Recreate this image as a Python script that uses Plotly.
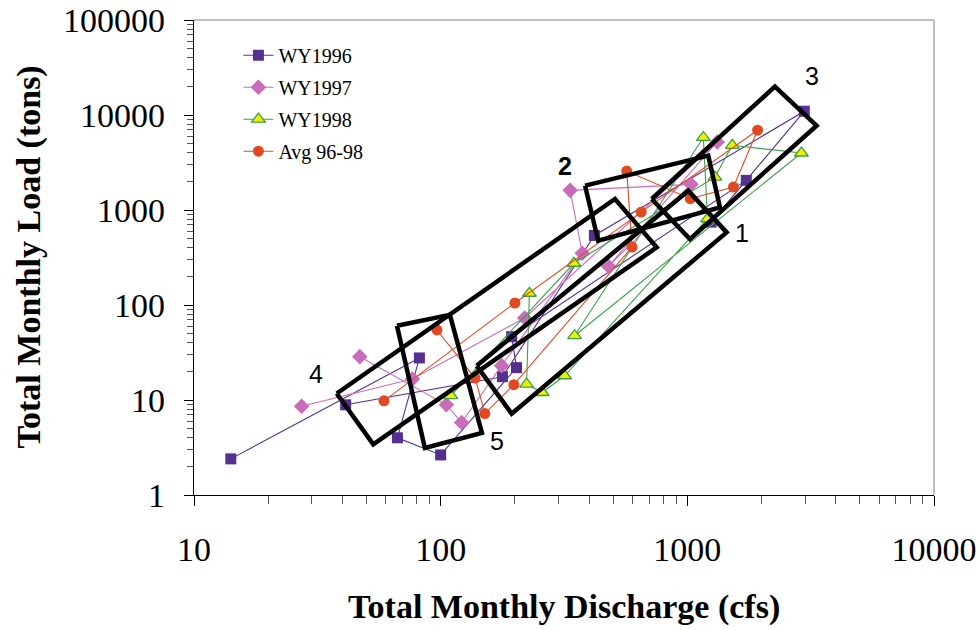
import numpy as np
import plotly.graph_objects as go

# ---------------- data (monthly) ----------------
wy1996_q = [14.1, 82, 66.8, 100, 203, 194, 1734, 1248, 2980, 420, 178, 41.2]
wy1996_load = [2.4, 27.7, 4.0, 2.64, 21.9, 46.4, 2050, 745, 10960, 540, 17.6, 8.9]

wy1997_q = [47, 105.5, 121.6, 176.6, 375, 335, 1035, 479, 1322, 219, 76.8, 27.3]
wy1997_load = [28.6, 8.9, 5.8, 23, 351, 1611, 1862, 256, 5200, 73, 16.6, 8.6]

wy1998_q = [229, 223, 258, 318, 1208, 1161, 349, 2900, 1521, 1294, 347, 110]
wy1998_load = [133, 14.7, 12, 18, 809, 5800, 47.5, 3980, 4800, 2220, 275, 11.1]

avg_q = [96.6, 138, 151, 198, 597, 568, 1028, 1538, 1927, 650, 200, 58.9]
avg_load = [54.6, 17, 7.2, 14.5, 407, 2572, 1315, 1745, 6917, 950, 105, 9.8]

# outlined groups (corner points in data units)
box1_q = [140, 1009, 1443, 194]
box1_load = [22.9, 1597, 581, 7.19]
box2_q = [385, 1216, 1356, 435]
box2_load = [1803, 3733, 1065, 475]
box3_q = [717, 2265, 3342, 1025]
box3_load = [1306, 19920, 7730, 494]
box4_q = [37.9, 509, 751, 53.3]
box4_load = [11.7, 1306, 404, 3.42]
box5_q = [66.5, 109, 147, 86.3]
box5_load = [60.4, 78.8, 4.5, 3.13]

label_text = ["1", "<b>2</b>", "3", "4", "5"]
label_q = [1663, 319, 3199, 31.2, 169]
label_load = [576, 2930, 26000, 18.8, 3.7]

SERIF = "Liberation Serif"
SANS = "Liberation Sans"

fig = go.Figure()

series = [
    ("WY1996", wy1996_q, wy1996_load,
     dict(symbol="square", size=11, color="#55308F", line=dict(width=0)), "#55308F"),
    ("WY1997", wy1997_q, wy1997_load,
     dict(symbol="diamond", size=12, color="#C86DBA", line=dict(width=0)), "#C86DBA"),
    ("WY1998", wy1998_q, wy1998_load,
     dict(symbol="triangle-up", size=12, color="#EEF200",
          line=dict(width=1.3, color="#3E9E4A")), "#3E9E4A"),
    ("Avg 96-98", avg_q, avg_load,
     dict(symbol="circle", size=11, color="#E04A22", line=dict(width=0)), "#E04A22"),
]
for name, q, ld, mk, lc in series:
    fig.add_trace(go.Scatter(
        x=q, y=ld, name=name, mode="lines+markers",
        line=dict(color=lc, width=1.1), marker=mk, legendgroup=name,
    ))

for bq, bl in [(box1_q, box1_load), (box2_q, box2_load), (box3_q, box3_load),
               (box4_q, box4_load), (box5_q, box5_load)]:
    fig.add_trace(go.Scatter(
        x=bq + bq[:1], y=bl + bl[:1], mode="lines",
        line=dict(color="black", width=4.5), showlegend=False, hoverinfo="skip",
    ))

for t, q, ld in zip(label_text, label_q, label_load):
    fig.add_annotation(x=np.log10(q), y=np.log10(ld), text=t, showarrow=False,
                       font=dict(family=SANS, size=25, color="black"))

# axis titles
fig.add_annotation(xref="paper", yref="paper", x=0.5, y=-0.236, yanchor="middle",
                   text="<b>Total Monthly Discharge (cfs)</b>", showarrow=False,
                   font=dict(family=SERIF, size=34, color="black"))
fig.add_annotation(xref="paper", yref="paper", x=-0.2243, y=0.5, xanchor="center",
                   yanchor="middle", textangle=-90,
                   text="<b>Total Monthly Load (tons)</b>", showarrow=False,
                   font=dict(family=SERIF, size=34, color="black"))

axis_common = dict(
    type="log", showline=True, linecolor="black", linewidth=1.3,
    ticks="outside", tickcolor="black", tickwidth=1,
    dtick=1, tickformat="d", showgrid=False, zeroline=False, automargin=False,
    ticklabeloverflow="allow",
    tickfont=dict(family=SERIF, size=34, color="black"),
    minor=dict(ticks="outside", tickcolor="#555555", tickwidth=1, dtick="D1", showgrid=False),
)

fig.update_xaxes(**axis_common, range=[1, 4], ticklen=10, ticklabelstandoff=14)
fig.update_xaxes(minor_ticklen=8)
fig.update_yaxes(**axis_common, range=[0, 5], ticklen=9, ticklabelstandoff=12)
fig.update_yaxes(minor_ticklen=6)

# light border on top and right of plot area
fig.add_shape(type="line", xref="paper", yref="paper", x0=0, x1=1, y0=1, y1=1,
              line=dict(color="#AAAAAA", width=1.5))
fig.add_shape(type="line", xref="paper", yref="paper", x0=1, x1=1, y0=0, y1=1,
              line=dict(color="#AAAAAA", width=1.5))

fig.update_layout(
    width=980, height=630,
    margin=dict(l=194, r=46, t=20, b=135, autoexpand=False),
    plot_bgcolor="white", paper_bgcolor="white",
    showlegend=True,
    legend=dict(x=0.06, y=0.967, xanchor="left", yanchor="top",
                bgcolor="rgba(0,0,0,0)", font=dict(family=SERIF, size=20, color="black"),
                tracegroupgap=3),
)

# remove the default page margin so the figure fills the window exactly
fig.write_html("out.html",
               config={"displayModeBar": False},
               post_script="document.body.style.margin='0';document.body.style.overflow='hidden';")
